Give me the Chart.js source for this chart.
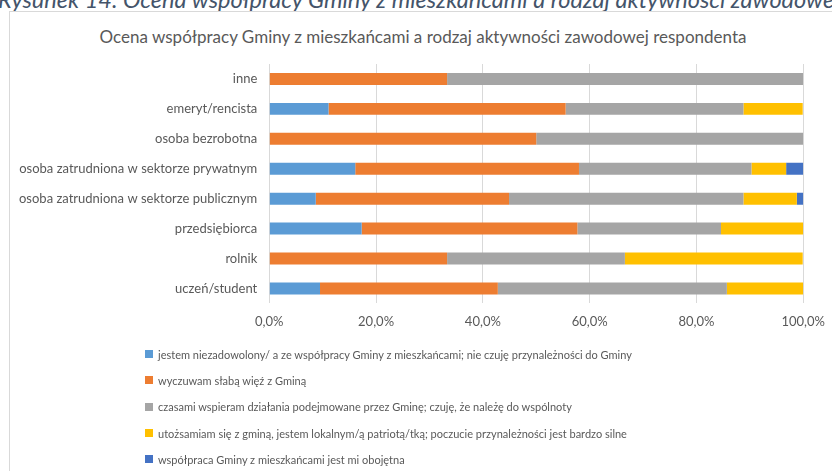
<!DOCTYPE html>
<html>
<head>
<meta charset="utf-8">
<script src="https://cdn.jsdelivr.net/npm/chart.js@4.4.0/dist/chart.umd.min.js"></script>
<style>
  html, body { margin: 0; padding: 0; background: #fff; overflow: hidden; }
  body { width: 832px; height: 471px; position: relative; font-family: Lato, "Open Sans", sans-serif; }
  #caption { position: absolute; left: -2px; top: -15px; white-space: nowrap; font-style: italic; font-size: 23.5px; color: #44546A; }
  #frame { position: absolute; left: 9px; top: 11px; width: 840px; height: 480px; border: 1px solid #d9d9d9; box-sizing: border-box; }
  #title { position: absolute; left: 23px; width: 800px; top: 26px; text-align: center; font-size: 17px; color: #595959; white-space: nowrap; }
  #wrap { position: absolute; left: 10px; top: 12px; width: 826px; height: 332px; }
  #legend { position: absolute; left: 145px; top: 341px; }
  .item { height: 26.3px; display: flex; align-items: center; font-size: 11px; color: #595959; white-space: nowrap; }
  .box { width: 8px; height: 8px; margin-right: 5px; }
</style>
</head>
<body>
<div id="caption">Rysunek 14. Ocena współpracy Gminy z mieszkańcami a rodzaj aktywności zawodowej respondenta</div>
<div id="frame"></div>
<div id="title">Ocena współpracy Gminy z mieszkańcami a rodzaj aktywności zawodowej respondenta</div>
<div id="wrap"><canvas id="myChart"></canvas></div>
<div id="legend"></div>
<script>
// categories, top to bottom
var categories = ["inne", "emeryt/rencista", "osoba bezrobotna", "osoba zatrudniona w sektorze prywatnym",
  "osoba zatrudniona w sektorze publicznym", "przedsiębiorca", "rolnik", "uczeń/student"];

// shares in %
var niezadowolony = [0, 11.1, 0, 16.1, 8.7, 17.3, 0, 9.5];
var slabaWiez     = [33.3, 44.4, 50, 41.9, 36.2, 40.4, 33.3, 33.3];
var czasamiWspieram = [66.7, 33.3, 50, 32.3, 43.9, 26.9, 33.3, 42.9];
var utozsamiam    = [0, 11.1, 0, 6.5, 10.0, 15.4, 33.3, 14.3];
var obojetna      = [0, 0, 0, 3.2, 1.2, 0, 0, 0];

var seriesNames = [
  "jestem niezadowolony/ a ze współpracy Gminy z mieszkańcami; nie czuję przynależności do Gminy",
  "wyczuwam słabą więź z Gminą",
  "czasami wspieram działania podejmowane przez Gminę; czuję, że należę do wspólnoty",
  "utożsamiam się z gminą, jestem lokalnym/ą patriotą/tką; poczucie przynależności jest bardzo silne",
  "współpraca Gminy z mieszkańcami jest mi obojętna"
];
var xTicks = [0, 20, 40, 60, 80, 100];

var colors = ["#5B9BD5", "#ED7D31", "#A5A5A5", "#FFC000", "#4472C4"];
var allData = [niezadowolony, slabaWiez, czasamiWspieram, utozsamiam, obojetna];

var datasets = [];
for (var i = 0; i < allData.length; i++) {
  datasets.push({
    label: seriesNames[i],
    data: allData[i],
    backgroundColor: colors[i],
    borderWidth: 0,
    barPercentage: 0.4,
    categoryPercentage: 1
  });
}

var fontFam = "Lato, 'Open Sans', sans-serif";
var canvas = document.getElementById("myChart");
var myChart = new Chart(canvas, {
  type: 'bar',
  data: { labels: categories, datasets: datasets },
  options: {
    indexAxis: 'y',
    responsive: true,
    maintainAspectRatio: false,
    animation: false,
    layout: { padding: { left: 5, right: 4, top: 52, bottom: 3 } },
    plugins: {
      legend: { display: false },
      tooltip: { enabled: false }
    },
    scales: {
      x: {
        stacked: true,
        min: 0,
        max: 100,
        afterBuildTicks: function (axis) {
          axis.ticks = xTicks.map(function (v) { return { value: v }; });
        },
        grid: { color: "#d9d9d9", drawTicks: false },
        border: { display: false },
        ticks: {
          color: "#595959",
          font: { family: fontFam, size: 13 },
          padding: 11,
          callback: function (v) { return v.toFixed(1).replace(".", ",") + "%"; }
        }
      },
      y: {
        stacked: true,
        grid: { display: false },
        border: { display: false },
        ticks: { color: "#595959", font: { family: fontFam, size: 13 }, padding: 4 }
      }
    }
  }
});

// legend as a vertical list under the chart
var legendDiv = document.getElementById("legend");
for (var k = 0; k < seriesNames.length; k++) {
  var row = document.createElement("div");
  row.className = "item";
  var box = document.createElement("span");
  box.className = "box";
  box.style.background = colors[k];
  row.appendChild(box);
  row.appendChild(document.createTextNode(seriesNames[k]));
  legendDiv.appendChild(row);
}
</script>
</body>
</html>
